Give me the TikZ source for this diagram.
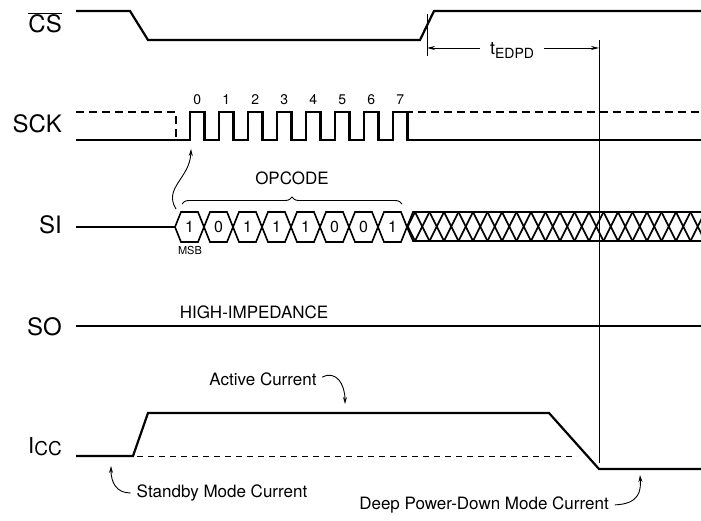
\documentclass[tikz,border=0pt]{standalone}
\usepackage{fontspec}
\setmainfont{TeX Gyre Heros}
\usetikzlibrary{arrows.meta,positioning,decorations.pathreplacing,calc}

\begin{document}
\begin{tikzpicture}[x=1pt,y=-1pt]
  \tikzstyle{sig}=[line width=2.2pt,line join=miter]
  \tikzstyle{sigdash}=[sig,dash pattern=on 8pt off 5pt]
  \tikzstyle{bus}=[line width=1.6pt,line join=miter]
  \tikzstyle{hair}=[line width=0.9pt]
  \tikzstyle{lbl}=[anchor=base east,inner sep=0pt,font=\fontsize{24}{24}\selectfont]
  \tikzstyle{note}=[inner sep=2pt,font=\fontsize{17}{17}\selectfont]
  \tikzstyle{clk}=[inner sep=0pt,font=\fontsize{14}{14}\selectfont]
  \tikzstyle{bit}=[inner sep=0pt,font=\fontsize{16}{16}\selectfont]
  \tikzstyle{callout}=[hair,shorten <=4pt,-{Stealth[length=7pt,width=4pt]}]

  \useasboundingbox (0,0) rectangle (701,521);

  % signal names
  \node[lbl] (cs) at (62,33) {$\overline{\mbox{CS}}$};
  \node[lbl] (sck) at (62,133) {SCK};
  \node[lbl] (si) at (62,234) {SI};
  \node[lbl] (so) at (62,335) {SO};
  \node[lbl,font=\fontsize{22}{22}\selectfont] (icc) at (62,453) {I\raisebox{-2pt}{\fontsize{19}{19}\selectfont CC}};

  % chip select
  \draw[sig] (76,11) -- (130,11) -- (148,40) -- (420,40) -- (434,11) -- (701,11);
  \draw[hair] (427,14) -- (427,56);
  \coordinate (tleft) at (427,48);
  \coordinate (tright) at (599,48);
  \node[inner xsep=10pt,inner ysep=0pt,font=\fontsize{18}{18}\selectfont] (tedpd) at (512,50) {t\raisebox{-4pt}{\fontsize{14}{14}\selectfont EDPD}};
  \draw[hair,-{Stealth[length=8pt,width=4pt]}] (tleft -| tedpd.west) -- (tleft);
  \draw[hair,-{Stealth[length=8pt,width=4pt]}] (tright -| tedpd.east) -- (tright);
  \draw[hair] (599,40) -- (599,463);

  % clock
  \draw[sigdash] (76,112) -- (176,112) -- (176,140);
  \draw[sig] (76,140) \foreach \i in {0,...,7} {
      -- ({190+29*\i},140) -- ({190+29*\i},112) -- ({204.5+29*\i},112) -- ({204.5+29*\i},140)
    } -- (701,140);
  \draw[sigdash] (404.5,112) -- (701,112);
  \foreach \i in {0,...,7}
    \node[clk] (clk\i) at ({197.25+29*\i},100) {\i};

  % serial input
  \draw[sig] (76,227) -- (175,227);
  \foreach \b [count=\i from 0] in {1,0,1,1,1,0,0,1} {
    \draw[bus] ({175+29*\i},227) -- ++(6,-15) -- ++(17,0) -- ++(6,15) -- ++(-6,15) -- ++(-17,0) -- cycle;
    \node[bit] (bit\i) at ({189.5+29*\i},227) {\b};
  }
  \draw[bus] (407,227) -- (413,212) -- (701,212);
  \draw[bus] (407,227) -- (413,241) -- (701,241);
  \begin{scope}
    \clip (407,205) rectangle (701,248);
    \foreach \k in {0,...,21} {
      \draw[bus] ({400.5+14.5*\k},212) -- ++(14.5,29);
      \draw[bus] ({400.5+14.5*\k},241) -- ++(14.5,-29);
    }
  \end{scope}
  \draw[hair,decorate,decoration={brace,amplitude=7pt}] (182,204) -- (402,204);
  \node[note] (opcode) at (292,178) {OPCODE};
  \node[inner sep=0pt,font=\fontsize{11}{11}\selectfont] (msb) at (190,250) {MSB};
  \coordinate (msbtail) at (176,209);
  \coordinate (firstedge) at (191,149);
  \draw[callout,shorten <=0pt] (msbtail) .. controls (163,188) and (190,178) .. (firstedge);

  % serial output
  \draw[sig] (76,326) -- (701,326);
  \node[note] (hiz) at (254,312.5) {HIGH-IMPEDANCE};

  % supply current
  \draw[sig] (76,456) -- (133,456) -- (148,413) -- (549,413) -- (599,469) -- (701,469);
  \draw[hair,dash pattern=on 6pt off 5pt] (137,456) -- (577,456);
  \node[note] (active) at (263,379) {Active Current};
  \node[note] (standby) at (222,493) {Standby Mode Current};
  \node[note] (deep) at (484,505) {Deep Power-Down Mode Current};
  \coordinate (activept) at (345,404);
  \coordinate (standbypt) at (111,466);
  \coordinate (deeppt) at (640,475);
  \draw[callout] (active.east) .. controls (336,370) and (345,384) .. (activept);
  \draw[callout] (standby.west) .. controls (116,493) and (111,482) .. (standbypt);
  \draw[callout] (deep.east) .. controls (640,504) and (641,490) .. (deeppt);
\end{tikzpicture}
\end{document}
